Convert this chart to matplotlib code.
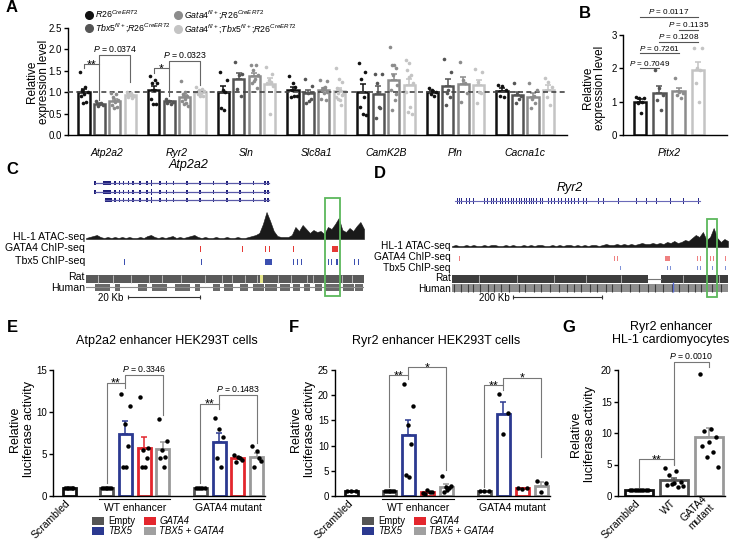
import numpy as np
import matplotlib
matplotlib.use('Agg')
import matplotlib.pyplot as plt
from matplotlib.patches import Rectangle, Patch
from matplotlib.lines import Line2D

plt.rcParams['font.family'] = ['Liberation Sans', 'DejaVu Sans']
plt.rcParams['mathtext.fontset'] = 'custom'
plt.rcParams['mathtext.rm'] = 'Liberation Sans'
plt.rcParams['mathtext.it'] = 'Liberation Sans:italic'
plt.rcParams['mathtext.bf'] = 'Liberation Sans:bold'
plt.rcParams['axes.linewidth'] = 1.0

W, H = 739, 546

# ---------------- data: panel A (qPCR, 4 genotypes per gene) ----------------
genes_a = ['Atp2a2', 'Ryr2', 'Sln', 'Slc8a1', 'CamK2B', 'Pln', 'Cacna1c']
geno_labels = [r'$R26^{CreERT2}$', r'$Tbx5^{fl/+}$;$R26^{CreERT2}$',
               r'$Gata4^{fl/+}$;$R26^{CreERT2}$', r'$Gata4^{fl/+}$;$Tbx5^{fl/+}$;$R26^{CreERT2}$']
geno_colors = ['#111111', '#555555', '#8c8c8c', '#c4c4c4']

pts_atp2a2 = [[1.47, 1.12, 1.05, 1.0, 0.95, 0.9, 0.78, 0.75],
              [0.79, 0.72, 0.70, 0.68, 0.75],
              [0.98, 0.95, 0.88, 0.82, 0.78, 0.70, 0.65, 0.62],
              [1.0, 0.98, 0.96, 0.94, 0.93, 0.90, 0.88, 0.86, 0.95, 0.91]]
pts_ryr2 = [[1.38, 1.28, 1.2, 1.2, 1.05, 0.85, 0.72, 0.72],
            [0.85, 0.80, 0.78, 0.75, 0.73],
            [1.25, 1.0, 0.95, 0.9, 0.85, 0.8, 0.75, 0.72, 0.68],
            [1.12, 1.08, 1.05, 1.02, 0.98, 0.95, 0.92, 0.90]]
pts_sln = [[1.47, 1.28, 1.05, 1.0, 0.62, 0.58],
           [1.7, 1.4, 1.42, 1.08, 0.9],
           [1.63, 1.63, 1.52, 1.4, 1.3, 1.2, 1.1, 1.25],
           [1.59, 1.43, 1.28, 1.24, 1.2, 1.15, 0.5]]
pts_slc8a1 = [[1.37, 1.12, 1.05, 0.9, 0.88, 0.9, 1.2],
              [1.31, 1.14, 0.97, 0.85, 0.74, 0.8],
              [1.27, 1.11, 1.06, 1.0, 0.97, 0.85, 0.81, 1.1, 1.25],
              [1.57, 1.3, 1.24, 1.1, 1.05, 0.98, 0.93, 0.89, 0.81, 0.95, 0.85, 0.7]]
pts_camk2b = [[1.68, 1.47, 1.3, 0.89, 0.66, 0.47, 0.5],
              [1.42, 1.42, 1.2, 0.62, 0.4, 0.65],
              [2.05, 1.63, 1.63, 1.55, 1.4, 1.16, 1.05, 0.81, 0.58, 0.95],
              [1.74, 1.68, 1.51, 1.4, 1.36, 1.2, 1.0, 0.66, 0.54, 0.5]]
pts_pln = [[1.1, 1.05, 1.0, 0.95, 0.9],
           [1.76, 1.47, 0.97, 0.89, 0.7, 1.05],
           [1.7, 1.28, 0.97, 0.78, 1.22],
           [1.53, 1.47, 1.24, 0.97, 0.74, 1.0]]
pts_cacna1c = [[1.16, 1.14, 1.05, 0.9, 0.88],
               [1.2, 0.95, 0.9, 0.75, 0.85],
               [1.2, 1.05, 0.85, 0.74, 0.62, 0.9],
               [1.32, 1.24, 1.12, 0.89, 0.7]]
pts_a = [pts_atp2a2, pts_ryr2, pts_sln, pts_slc8a1, pts_camk2b, pts_pln, pts_cacna1c]

# ---------------- panel B (Pitx2) ----------------
pts_pitx2 = [[1.15, 1.12, 1.1, 1.0, 0.95, 0.65],
             [1.95, 1.4, 1.2, 1.05, 0.75],
             [1.7, 1.3, 1.25, 1.2, 1.1],
             [2.6, 2.6, 2.0, 1.95, 1.55, 1.0]]
pvals_b = ['0.7049', '0.7261', '0.1208', '0.1135', '0.0117']
pairs_b = [(0, 1), (0, 2), (1, 3), (2, 3), (0, 3)]
levels_b = [2.0, 2.45, 2.8, 3.15, 3.55]

# ---------------- panels C / D (genome tracks) ----------------
exons_c = [2.5, 4.8, 6.7, 8.1, 9.3, 10.4, 11.8, 13.1, 15.0, 16.9, 18.2, 20.6, 22.4,
           24.3, 28.0, 31.7, 35.4, 39.1, 42.8, 46.5, 49.7, 50.6]
tx_starts_c = [2.5, 2.5, 5.3]
tx_end_c = 50.9
atac_c = [1, 2, 3, 4, 2, 1, 2, 1, 2, 1, 2, 1, 2, 1, 1, 2, 1, 3, 4, 2,
          1, 2, 1, 2, 3, 1, 2, 1, 2, 3, 4, 2, 1, 2, 1, 1, 2, 1, 1, 2,
          1, 1, 2, 1, 1, 2, 3, 4, 6, 15, 27, 18, 8, 3, 2, 2, 2, 4, 12, 8,
          14, 10, 6, 9, 7, 8, 5, 12, 10, 15, 21, 9, 7, 11, 8, 13, 17, 10]
gata4_c = [(31.6, 0.3), (43.3, 0.3), (49.8, 0.3), (50.7, 0.3), (57.5, 0.3), (68.4, 1.5)]
tbx5_c = [(10.5, 0.3), (31.9, 0.3), (49.6, 2.0), (57.5, 0.3), (58.7, 0.3), (59.8, 0.3),
          (67.2, 0.3), (68.1, 0.3), (69.4, 0.5), (74.4, 0.3), (75.5, 0.3)]
rat_gaps_c = [3.2, 7.5, 12.6, 17.5, 21.0, 26.5, 33.0, 37.8, 40.5, 44.2, 47.6, 53.2,
              56.8, 61.5, 63.0, 66.0, 71.0, 73.8]
human_blocks_c = [(2.5, 4.2), (8.1, 1.3), (14.5, 2.4), (18.2, 4.2), (24.7, 4.2), (30.3, 1.4),
                  (35.4, 1.8), (38.2, 2.7), (42.8, 2.3), (46.5, 2.8), (49.7, 3.3), (53.9, 2.8),
                  (57.6, 1.8), (60.4, 1.8), (63.6, 1.9), (66.4, 4.2), (71.5, 2.8), (74.7, 2.3)]

exons_d = [9, 12, 16, 22, 27, 33, 40, 48, 54, 63, 74, 79, 89, 94, 100, 108, 114, 121, 127,
           134, 139, 145, 151, 157, 162, 168, 174, 179, 184, 190, 198, 204, 209, 216, 224,
           231, 239, 246, 254, 261, 269, 276, 284, 295, 303, 310, 319, 329, 340, 355, 374,
           393, 415, 437, 460, 490, 520, 553, 557]
atac_d = [1, 2, 1, 1, 2, 1, 2, 1, 1, 2, 1, 2, 2, 1, 1, 2, 1, 2, 1, 1,
          2, 1, 2, 1, 2, 2, 1, 1, 2, 1, 2, 1, 2, 2, 1, 2, 1, 2, 1, 2,
          2, 1, 2, 3, 2, 2, 3, 2, 3, 2, 3, 2, 3, 4, 3, 3, 4, 3, 4, 3,
          5, 4, 6, 4, 5, 7, 6, 9, 12, 10, 15, 7, 10, 19, 9, 5, 8, 6]
gata4_d = [(16, 2.2), (364, 2.2), (370, 2.2), (478, 12), (551, 2.2), (557, 2.2),
           (580, 2.2), (587, 2.2), (613, 2.2)]
tbx5_d = [(377, 2.2), (482, 2.2), (490, 2.2), (550, 2.2), (557, 2.2), (565, 2.2),
          (583, 2.2), (613, 2.2)]
rat_blocks_d = [(0, 440), (470, 150)]
rat_gaps_d = [60, 145, 230, 300, 380, 520, 600]
human_dark_d = [5, 20, 35, 48, 62, 80, 95, 110, 128, 150, 165, 185, 200, 220, 240, 258,
                275, 290, 310, 325, 345, 360, 380, 400, 420, 440, 455, 475, 495, 510,
                530, 545, 560, 585, 605]

# ---------------- panels E / F / G (luciferase) ----------------
pos_ef = [0, 2, 3, 4, 5, 7, 8, 9, 10]
cond_colors = ['#111111', '#555555', '#2b3990', '#e3262d', '#999999',
               '#555555', '#2b3990', '#e3262d', '#999999']
pts_e = [[1.0] * 6,
         [1.0] * 6,
         [12.2, 10.7, 8.6, 5.9, 3.4, 3.4],
         [11.8, 5.7, 5.5, 4.5, 3.5, 3.5],
         [9.2, 6.5, 5.5, 4.7, 4.5, 3.5],
         [1.0] * 5,
         [9.3, 8.0, 7.0, 4.5, 3.5],
         [4.9, 4.7, 4.3, 4.0, 4.5],
         [5.9, 5.3, 4.2, 3.5, 4.5]]
pts_f = [[1.0] * 3,
         [1.0] * 6,
         [22.2, 17.8, 14.0, 10.4, 4.1, 3.8],
         [0.5, 1.1, 0.8, 0.4, 0.7],
         [4.0, 2.0, 1.8, 1.5, 0.8, 1.2],
         [1.0] * 3,
         [20.2, 16.5, 12.3],
         [1.6, 1.6, 1.3],
         [2.9, 2.6, 0.7]]
labels_g = ['Scrambled', 'WT', 'GATA4\nmutant']
colors_g = ['#111111', '#555555', '#999999']
pts_g = [[1.0] * 9,
         [4.5, 3.9, 3.3, 2.3, 2.0, 1.7, 1.5, 1.9, 1.6],
         [19.4, 10.7, 10.3, 9.3, 8.5, 7.9, 7.0, 6.2, 4.6]]
legend_ef = ['Empty', 'TBX5', 'GATA4', 'TBX5 + GATA4']
legend_ef_colors = ['#555555', '#2b3990', '#e3262d', '#a0a0a0']


def px(x0, y0, x1, y1):
    return [x0 / W, 1 - y1 / H, (x1 - x0) / W, (y1 - y0) / H]


def spread(n, s):
    if n == 1:
        return np.zeros(1)
    base = np.linspace(-s, s, n)
    return base[np.argsort((np.arange(n) * 0.618) % 1)]


def style(ax):
    ax.spines['top'].set_visible(False)
    ax.spines['right'].set_visible(False)
    ax.tick_params(axis='y', labelsize=7, length=3, width=1, pad=1.5)
    ax.tick_params(axis='x', length=0)


def bars(ax, xs, pts, colors, width, ms, pt_colors=None, lw=1.8):
    for i, (x, vals, c) in enumerate(zip(xs, pts, colors)):
        v = np.array(vals, dtype=float)
        m = v.mean()
        se = v.std(ddof=1) / np.sqrt(len(v))
        ax.bar(x, m, width=width, facecolor='white', edgecolor=c, lw=lw, zorder=2)
        ax.errorbar(x, m, yerr=[[0], [se]], fmt='none', ecolor=c, elinewidth=1.1,
                    capsize=2.2, capthick=1.1, zorder=3)
        pc = c if pt_colors is None else pt_colors[i]
        ax.plot(x + spread(len(v), width * 0.32), v, 'o', ms=ms, color=pc,
                mew=0, zorder=4)


def bracket(ax, x1, x2, y, y1, y2, color='#666666', lw=0.8):
    ax.plot([x1, x1, x2, x2], [y1, y, y, y2], color=color, lw=lw,
            clip_on=False, zorder=5)


def stars(ax, x, y, s):
    ax.annotate(s, xy=(x, y), xytext=(0, -3), textcoords='offset points',
                ha='center', va='baseline', fontsize=9, annotation_clip=False)


def ptext(ax, x, y, p, fs=6.3):
    ax.annotate(r'$P$ = ' + p, xy=(x, y), xytext=(0, 0.6), textcoords='offset points',
                ha='center', va='bottom', fontsize=fs, annotation_clip=False)


fig = plt.figure(figsize=(W / 100, H / 100), dpi=100)

# ======================= Panel A =======================
ax_a = fig.add_axes(px(68, 27.7, 567, 135))
style(ax_a)
for g, pts in enumerate(pts_a):
    xs = [g * 4.5 + k for k in range(4)]
    bars(ax_a, xs, pts, geno_colors, 0.72, 2.6)
ax_a.axhline(1.0, color='#444444', lw=1.2, ls=(0, (3, 2)), zorder=3.5)
ax_a.set_xlim(-1.03, 31.2)
ax_a.set_ylim(0, 2.5)
ax_a.set_yticks([0, 0.5, 1.0, 1.5, 2.0, 2.5])
ax_a.set_yticklabels(['0.0', '0.5', '1.0', '1.5', '2.0', '2.5'])
ax_a.set_xticks([g * 4.5 + 1.5 for g in range(len(genes_a))])
ax_a.set_xticklabels(genes_a, fontstyle='italic', fontsize=7.5)
ax_a.tick_params(axis='x', pad=9)
bracket(ax_a, 0, 1, 1.65, 1.55, 0.82)
stars(ax_a, 0.5, 1.65, '**')
bracket(ax_a, 1, 3, 1.86, 1.65, 1.24)
ptext(ax_a, 2, 1.86, '0.0374')
bracket(ax_a, 4.5, 5.5, 1.55, 1.45, 0.9)
stars(ax_a, 5.0, 1.55, '*')
bracket(ax_a, 5.5, 7.5, 1.72, 1.55, 1.16)
ptext(ax_a, 6.5, 1.72, '0.0323')
fig.text(38 / W, 1 - 82 / H, 'Relative\nexpression level', rotation=90, ha='center',
         va='center', fontsize=8.5, linespacing=0.95, multialignment='center')
handles_a = [Line2D([], [], marker='o', ls='', color=c, ms=5.5) for c in geno_colors]
fig.legend(handles_a, geno_labels, loc='upper left', bbox_to_anchor=(85 / W, 1 - 8 / H),
           ncol=2, frameon=False, fontsize=6.3, handletextpad=0.15, columnspacing=0.3,
           labelspacing=0.2, borderaxespad=0, borderpad=0, handlelength=1.0)

# ======================= Panel B =======================
ax_b = fig.add_axes(px(623, 35, 727, 135))
style(ax_b)
bars(ax_b, [0, 1, 2, 3], pts_pitx2, geno_colors, 0.65, 2.6)
ax_b.set_xlim(-0.88, 4.5)
ax_b.set_ylim(0, 3)
ax_b.set_yticks([0, 1, 2, 3])
ax_b.set_xticks([1.5])
ax_b.set_xticklabels(['Pitx2'], fontstyle='italic', fontsize=7.5)
ax_b.tick_params(axis='x', pad=9)
for (i1, i2), lev, p in zip(pairs_b, levels_b, pvals_b):
    ax_b.plot([i1, i2], [lev, lev], color='#555555', lw=0.8, clip_on=False)
    ptext(ax_b, (i1 + i2) / 2, lev, p, fs=5.9)
fig.text(594 / W, 1 - 88 / H, 'Relative\nexpression level', rotation=90, ha='center',
         va='center', fontsize=8.5, linespacing=0.95, multialignment='center')


# ======================= Genome panels =======================
def track_labels(ax, rows, names, fs=7.6):
    for r, t in zip(rows, names):
        ax.text(-0.004, r, t, transform=ax.get_yaxis_transform(), ha='right',
                va='center', fontsize=fs)


def chip(ax, peaks, row, half, color):
    ax.broken_barh(peaks, (row - half, 2 * half), facecolors=color, lw=0)


# Panel C
ax_c = fig.add_axes(px(86, 160, 364, 300))
ax_c.set_xlim(0, 77.2)
ax_c.set_ylim(300, 160)
ax_c.axis('off')
gene_rows_c = [183, 192, 200]
for r, st in zip(gene_rows_c, tx_starts_c):
    ax_c.plot([st, tx_end_c], [r, r], color='#5a5aa8', lw=0.9)
    ex = [e for e in exons_c if e >= st - 0.1]
    ax_c.broken_barh([(e - 0.2, 0.4) for e in ex], (r - 2.2, 4.4), facecolors='#1f1f78', lw=0)
    ax_c.broken_barh([(max(st, 4.8), 1.9)], (r - 2.2, 4.4), facecolors='#1f1f78', lw=0)
    ax_c.broken_barh([(18.0, 0.4)], (r - 3, 6), facecolors='#1f1f78', lw=0)
ax_c.text(28.6, 165, 'Atp2a2', ha='center', va='center', fontsize=9, fontstyle='italic')
xc = np.linspace(0, 77.2, len(atac_c))
ax_c.fill_between(xc, 239, 239 - np.array(atac_c), color='#1a1a1a', lw=0.4)
chip(ax_c, gata4_c, 249, 3, '#e53935')
chip(ax_c, tbx5_c, 262, 3, '#3b4fb0')
ax_c.broken_barh([(0, 77.2)], (275, 8), facecolors='#5a5a5a', lw=0)
ax_c.vlines(rat_gaps_c, 275, 283, color='#c8c8c8', lw=0.6)
ax_c.broken_barh([(48.3, 0.9)], (275, 8), facecolors='#e6e68a', lw=0)
ax_c.plot([0, 77.2], [287, 287], color='#8a8a8a', lw=0.8)
ax_c.broken_barh(human_blocks_c, (284, 6.5), facecolors='#6a6a6a', lw=0)
ax_c.plot([11.7, 31.7], [297, 297], color='#333333', lw=0.8)
ax_c.vlines([11.7, 31.7], 295, 299, color='#333333', lw=0.8)
ax_c.text(10.5, 297.5, '20 Kb', ha='right', va='center', fontsize=7)
ax_c.add_patch(Rectangle((66.4, 198), 4.2, 98, fill=False, edgecolor='#5cb85c', lw=1.3,
                         clip_on=False, zorder=6))
track_labels(ax_c, [237, 248, 261, 277, 287.5],
             ['HL-1 ATAC-seq', 'GATA4 ChIP-seq', 'Tbx5 ChIP-seq', 'Rat', 'Human'])

# Panel D
ax_d = fig.add_axes(px(452, 160, 728, 300))
ax_d.set_xlim(0, 620)
ax_d.set_ylim(300, 160)
ax_d.axis('off')
ax_d.plot([7, 557], [201, 201], color='#6a6ab8', lw=0.8)
ax_d.broken_barh([(e - 1.0, 2.0) for e in exons_d], (198, 6), facecolors='#2a2a8a', lw=0)
ax_d.text(265, 188, 'Ryr2', ha='center', va='center', fontsize=9, fontstyle='italic')
xd = np.linspace(0, 620, len(atac_d))
ax_d.fill_between(xd, 247, 247 - np.array(atac_d), color='#1a1a1a', lw=0.4)
chip(ax_d, gata4_d, 258.5, 2.5, '#ef8080')
chip(ax_d, tbx5_d, 268, 2.2, '#7f92d8')
ax_d.broken_barh(rat_blocks_d, (275, 8), facecolors='#3d3d3d', lw=0)
ax_d.plot([440, 470], [279, 279], color='#777777', lw=0.8)
ax_d.vlines(rat_gaps_d, 275, 283, color='#bbbbbb', lw=0.6)
ax_d.broken_barh([(0, 620)], (284, 8), facecolors='#8f8f8f', lw=0)
ax_d.vlines(human_dark_d, 284, 292, color='#3c3c3c', lw=0.8)
ax_d.vlines([497], 282, 292, color='#5b6fd6', lw=1.0)
ax_d.plot([137, 337], [297, 297], color='#333333', lw=0.8)
ax_d.vlines([137, 337], 295, 299, color='#333333', lw=0.8)
ax_d.text(130, 297.5, '200 Kb', ha='right', va='center', fontsize=7)
ax_d.add_patch(Rectangle((573, 219), 23, 78, fill=False, edgecolor='#5cb85c', lw=1.3,
                         clip_on=False, zorder=6))
track_labels(ax_d, [246, 257, 267.5, 278, 288.5],
             ['HL-1 ATAC-seq', 'GATA4 ChIP-seq', 'Tbx5 ChIP-seq', 'Rat', 'Human'], fs=7.3)


# ======================= Panels E / F =======================
def lucif(ax, pts, ymax, step):
    style(ax)
    bars(ax, pos_ef, pts, cond_colors, 0.7, 3.2, pt_colors=['black'] * 9, lw=2)
    ax.set_xlim(-0.86, 10.45)
    ax.set_ylim(0, ymax)
    ax.set_yticks(np.arange(0, ymax + 1, step))
    ax.set_xticks([0])
    ax.set_xticklabels(['Scrambled'], rotation=45, ha='right', va='center',
                       rotation_mode='anchor', fontsize=7.5)
    ax.tick_params(axis='x', pad=4)
    tr = ax.get_xaxis_transform()
    for x0, x1, t in [(1.6, 5.4, 'WT enhancer'), (6.6, 10.4, 'GATA4 mutant')]:
        ax.plot([x0, x1], [-0.025, -0.025], transform=tr, color='black', lw=0.8, clip_on=False)
        ax.text((x0 + x1) / 2, -0.055, t, transform=tr, ha='center', va='top', fontsize=7.5)


ax_e = fig.add_axes(px(53, 370, 265, 496))
lucif(ax_e, pts_e, 15, 5)
bracket(ax_e, 2, 3, 13.5, 1.6, 12.8, color='#777777')
stars(ax_e, 2.5, 13.5, '**')
bracket(ax_e, 3, 5, 14.4, 13.5, 9.6, color='#777777')
ptext(ax_e, 4, 14.4, '0.3346')
bracket(ax_e, 7, 8, 11.0, 1.6, 10.3, color='#777777')
stars(ax_e, 7.5, 11.0, '**')
bracket(ax_e, 8, 10, 12.0, 11.0, 6.3, color='#777777')
ptext(ax_e, 9, 12.0, '0.1483')

ax_f = fig.add_axes(px(335, 370, 550, 496))
lucif(ax_f, pts_f, 25, 5)
bracket(ax_f, 2, 3, 24.0, 1.8, 23.2, color='#777777')
stars(ax_f, 2.5, 24.0, '**')
bracket(ax_f, 3, 5, 25.5, 24.0, 5.1, color='#777777')
stars(ax_f, 4, 25.5, '*')
bracket(ax_f, 7, 8, 22.0, 1.8, 21.0, color='#777777')
stars(ax_f, 7.5, 22.0, '**')
bracket(ax_f, 8, 10, 23.5, 22.0, 7.8, color='#777777')
stars(ax_f, 9, 23.5, '*')

for ax_, x_title, t, x_leg in [(ax_e, 167, 'Atp2a2 enhancer HEK293T cells', 92),
                               (ax_f, 436, 'Ryr2 enhancer HEK293T cells', 362)]:
    fig.text(x_title / W, 1 - 341 / H, t, ha='center', va='center', fontsize=9)
    hs = [Patch(facecolor=c, edgecolor='none') for c in legend_ef_colors]
    leg = fig.legend(hs, legend_ef, loc='upper left', bbox_to_anchor=(x_leg / W, 1 - 516 / H),
                     ncol=2, frameon=False, fontsize=6.9, handlelength=1.3, handleheight=0.9,
                     labelspacing=0.05, columnspacing=0.9, handletextpad=0.35,
                     borderaxespad=0, borderpad=0)
    for k in (1, 2, 3):
        leg.get_texts()[k].set_fontstyle('italic')

# ======================= Panel G =======================
ax_g = fig.add_axes(px(618, 370, 725, 496))
style(ax_g)
bars(ax_g, [0, 1, 2], pts_g, colors_g, 0.8, 3.2, pt_colors=['black'] * 3, lw=2)
ax_g.set_xlim(-0.6, 2.46)
ax_g.set_ylim(0, 20)
ax_g.set_yticks([0, 5, 10, 15, 20])
ax_g.set_xticks([0, 1, 2])
ax_g.set_xticklabels(labels_g, rotation=45, ha='right', va='center',
                     rotation_mode='anchor', fontsize=7.5)
ax_g.tick_params(axis='x', pad=4)
bracket(ax_g, 0, 1, 5.8, 1.5, 4.9, color='#777777')
stars(ax_g, 0.5, 5.8, '**')
bracket(ax_g, 1, 2, 21.3, 5.1, 20.4, color='#777777')
ptext(ax_g, 1.5, 21.3, '0.0010')
fig.text(671 / W, 1 - 327 / H, 'Ryr2 enhancer', ha='center', va='center', fontsize=9)
fig.text(671 / W, 1 - 340 / H, 'HL-1 cardiomyocytes', ha='center', va='center', fontsize=9)

# y labels for luciferase panels
for xl, yl in [(22, 429), (303, 429), (583, 434)]:
    fig.text(xl / W, 1 - yl / H, 'Relative\nluciferase activity', rotation=90, ha='center',
             va='center', fontsize=9, linespacing=1.15, multialignment='center')

# panel letters
for t, (x, y) in zip('ABCDEFG', [(12, 7), (585, 13), (12, 170), (380, 173),
                                 (12, 328), (294, 328), (569, 327)]):
    fig.text(x / W, 1 - y / H, t, ha='center', va='center', fontsize=12, fontweight='bold')

fig.savefig('out.png', dpi=100)
